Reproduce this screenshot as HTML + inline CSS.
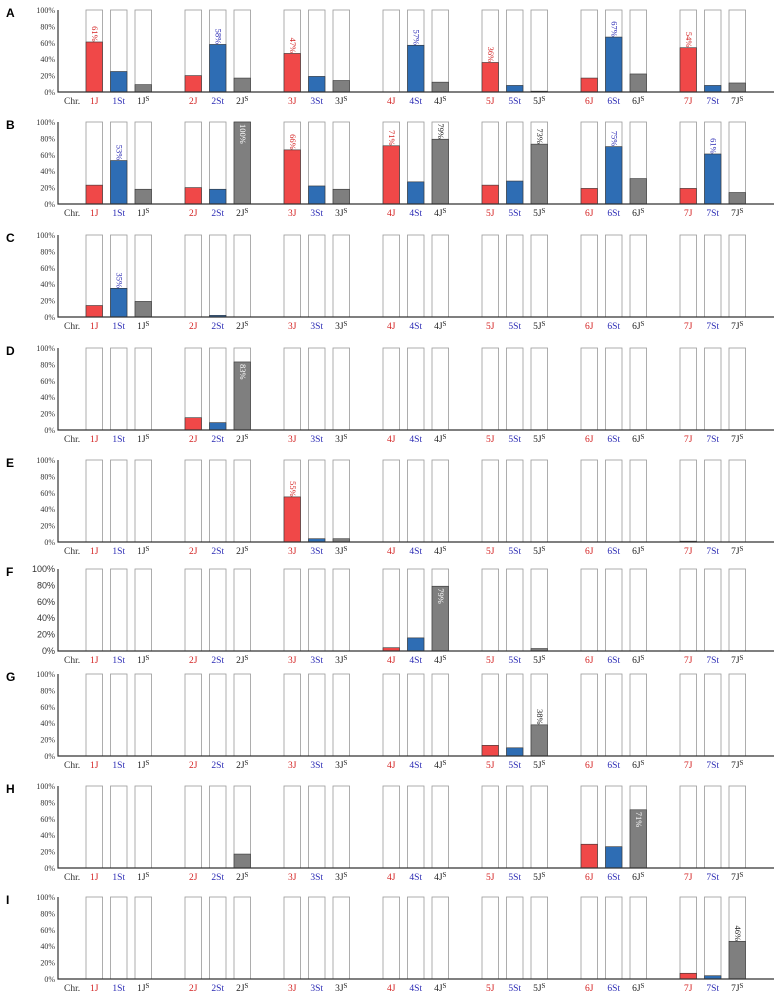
<!DOCTYPE html>
<html><head><meta charset="utf-8"><style>
body{margin:0;background:#fff}
svg{display:block}
</style></head><body>
<svg id="c" width="784" height="992" xmlns="http://www.w3.org/2000/svg"></svg>
<script>
const panels=["A","B","C","D","E","F","G","H","I"];
const groups=["1","2","3","4","5","6","7"];
const seriesNames=["J","St","Js"];
const valJ=[[61,20,47,0,36,17,54],[23,20,66,71,23,19,19],[14,0,0,0,0,0,0],[0,15,0,0,0,0,0],[0,0,55,0,0,0,1],[0,0,0,4,0,0,0],[0,0,0,0,13,0,0],[0,0,0,0,0,29,0],[0,0,0,0,0,0,7]];
const valSt=[[25,58,19,57,8,67,8],[53,18,22,27,28,70,61],[35,2,0,0,0,0,0],[0,9,0,0,0,0,0],[0,0,4,0,0,0,0],[0,0,0,16,0,0,0],[0,0,0,0,10,0,0],[0,0,0,0,0,26,0],[0,0,0,0,0,0,4]];
const valJs=[[9,17,14,12,1,22,11],[18,100,18,79,73,31,14],[19,0,0,0,0,0,0],[0,83,0,0,0,0,0],[0,0,4,0,0,0,0],[0,0,0,79,3,0,0],[0,0,0,0,38,0,0],[0,17,0,0,0,71,0],[0,0,0,0,0,0,46]];
const printed=[[0,0,0,"61%",0],[0,1,1,"58%",0],[0,2,0,"47%",0],[0,3,1,"57%",0],[0,4,0,"36%",0],[0,5,1,"67%",0],[0,6,0,"54%",0],
[1,0,1,"53%",0],[1,1,2,"100%",1],[1,2,0,"66%",0],[1,3,0,"71%",0],[1,3,2,"79%",0],[1,4,2,"73%",0],[1,5,1,"75%",0],[1,6,1,"61%",0],
[2,0,1,"35%",0],[3,1,2,"83%",1],[4,2,0,"55%",0],[5,3,2,"79%",1],[6,4,2,"38%",0],[7,5,2,"71%",1],[8,6,2,"46%",0]];
const ticks=[0,20,40,60,80,100];
const panelTops=[10,122,235,348,460,569,674,786,897];
const H=82, X0=58, X1=774;
const fills=["#f04848","#2e6db4","#7f7f7f"];
const txtCols=["#d42222","#2a2ab4","#222"];
const svg=document.getElementById('c');
const NS="http://www.w3.org/2000/svg";
function mk(t,a,p){const e=document.createElementNS(NS,t);for(const k in a)e.setAttribute(k,a[k]);(p||svg).appendChild(e);return e;}
function xBar(g,s){return 86+g*99+s*24.5;}
const BW=16.5;
panels.forEach((pl,pi)=>{
  const top=panelTops[pi], base=top+H;
  const y=v=>base-v/100*H;
  const g=mk('g',{});
  
  
  const lab=mk('text',{x:6,y:top+7,'font-family':'Liberation Sans, sans-serif','font-weight':'bold','font-size':'12'},g);
  lab.textContent=pl;
  
  
  const serif=pi!==5;
  ticks.forEach(t=>{
    const tt=mk('text',{x:55,y:y(t)+3,'text-anchor':'end','font-family':serif?'Liberation Serif, serif':'Liberation Sans, sans-serif','font-size':serif?'8':'9',fill:'#333'},g);
    tt.textContent=t+'%';
    
    
  });
  const vals=[valJ[pi],valSt[pi],valJs[pi]];
  groups.forEach((gr,gi)=>{
    for(let s=0;s<3;s++){
      const x=xBar(gi,s);
      const bg=mk('rect',{x:x,y:y(100),width:BW,height:H,fill:'#fff',stroke:'#999','stroke-width':'0.8'},g);
      
      
      const v=vals[s][gi];
      if(v>0){
        const r=mk('rect',{x:x,y:y(v),width:BW,height:base-y(v),fill:fills[s],stroke:'#333','stroke-width':'0.6'},g);
        
        
      }
      const tx=mk('text',{x:x+BW/2,y:base+12,'text-anchor':'middle','font-family':'Liberation Serif, serif','font-size':'9.5',fill:txtCols[s]},g);
      if(s===2){tx.textContent=gr+'J';const sp=mk('tspan',{'font-size':'7',dy:'-3'},tx);sp.textContent='S';}
      else tx.textContent=gr+seriesNames[s];
      
      
    }
  });
  const chr=mk('text',{x:64,y:base+12,'font-family':'Liberation Serif, serif','font-size':'9.5',fill:'#333'},g);
  chr.textContent='Chr.';
  
  
  const ax=mk('path',{d:`M${X0} ${top} V${base} H${X1}`,stroke:'#333','stroke-width':'1.2',fill:'none'},g);
  
  
  printed.filter(p=>p[0]===pi).forEach(p=>{
    const v=vals[p[2]][p[1]];
    const cx=xBar(p[1],p[2])+BW/2;
    const ty=p[4]?y(v)+2:y(v)-2-p[3].length*4.6;
    const col=p[4]?'#fff':txtCols[p[2]];
    const t=mk('text',{x:0,y:0,transform:`translate(${cx-2.5},${ty}) rotate(90)`,'font-family':'Liberation Serif, serif','font-size':'8.5',fill:col},g);
    t.textContent=p[3];
    
    
  });
});
</script>
</body></html>
